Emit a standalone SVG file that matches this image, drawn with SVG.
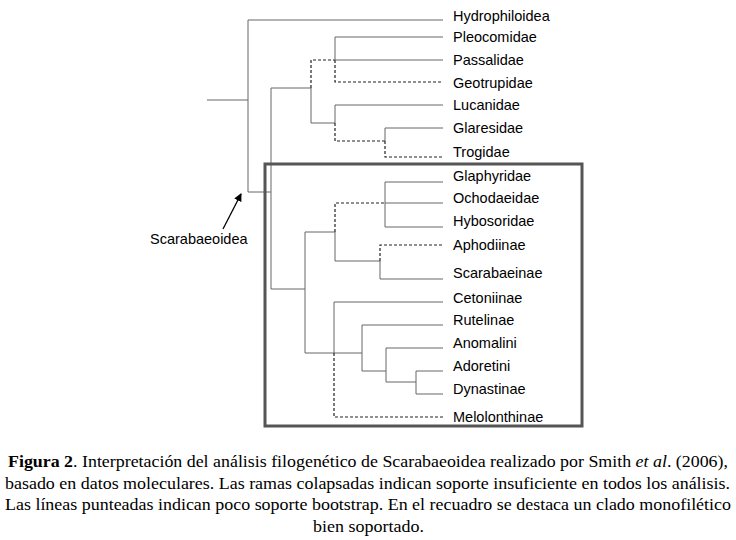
<svg xmlns="http://www.w3.org/2000/svg" width="736" height="540" viewBox="0 0 736 540">
<style>
.s{stroke:#666;stroke-width:1;fill:none}
.d{stroke:#222;stroke-width:1.2;fill:none;stroke-dasharray:3,2}
.lb{font-family:"Liberation Sans",Arial,sans-serif;font-size:14.5px;fill:#000}
.cap{font-family:"Liberation Serif","Times New Roman",serif;font-size:16.5px;fill:#000}
</style>
<defs>
<marker id="ah" markerWidth="8" markerHeight="8" refX="7" refY="4" orient="auto" markerUnits="userSpaceOnUse">
<path d="M0,0 L8,4 L0,8 z" fill="#000"/>
</marker>
</defs>
<rect width="736" height="540" fill="#fff"/>
<g id="connectors">
<path class="s" d="M207,100 H248 M248,20 V192 M248,20 H443 M248,192 H271 M271,88 V289 M271,88 H311 M311,88 V123"/>
<path class="d" d="M311,88 V60 H335 M335,60 V82 H443"/>
<path class="s" d="M335,37 V60 M335,37 H443 M335,60 H443"/>
<path class="s" d="M311,123 H335 M335,105 V123 M335,105 H443"/>
<path class="d" d="M335,123 V141 H385 M385,141 V157 H443"/>
<path class="s" d="M385,128 V141 M385,128 H443"/>
<path class="s" d="M271,289 H305 M305,232 V353 M305,232 H335 M335,232 V261 M335,261 H380"/>
<path class="d" d="M335,232 V203 H385"/>
<path class="s" d="M385,182 V227 M385,182 H443 M385,203 H443 M385,227 H443"/>
<path class="d" d="M380,261 V245 H443"/>
<path class="s" d="M380,261 V279 H443"/>
<path class="s" d="M305,353 H362 M334,302 V353 M334,302 H443"/>
<path class="d" d="M334,353 V417 H443"/>
<path class="s" d="M362,325 V371 M362,325 H443 M362,371 H386 M386,348 V382 M386,348 H443 M386,382 H416 M416,371 V394 M416,371 H443 M416,394 H443"/>
<line x1="223" y1="229" x2="241" y2="194" stroke="#000" stroke-width="1.3" marker-end="url(#ah)"/>
</g>
<g id="box"><rect x="265" y="164" width="317" height="262" fill="none" stroke="#555" stroke-width="3"/></g>
<g id="labels">
<text class="lb" x="453" y="21">Hydrophiloidea</text>
<text class="lb" x="453" y="42">Pleocomidae</text>
<text class="lb" x="453" y="65">Passalidae</text>
<text class="lb" x="453" y="88">Geotrupidae</text>
<text class="lb" x="453" y="110">Lucanidae</text>
<text class="lb" x="453" y="133">Glaresidae</text>
<text class="lb" x="453" y="157">Trogidae</text>
<text class="lb" x="453" y="181">Glaphyridae</text>
<text class="lb" x="453" y="203">Ochodaeidae</text>
<text class="lb" x="453" y="226">Hybosoridae</text>
<text class="lb" x="453" y="250">Aphodiinae</text>
<text class="lb" x="453" y="278">Scarabaeinae</text>
<text class="lb" x="453" y="303">Cetoniinae</text>
<text class="lb" x="453" y="325">Rutelinae</text>
<text class="lb" x="453" y="348">Anomalini</text>
<text class="lb" x="453" y="371">Adoretini</text>
<text class="lb" x="453" y="394">Dynastinae</text>
<text class="lb" x="453" y="422">Melolonthinae</text>
<text class="lb" x="150" y="244">Scarabaeoidea</text>
</g>
<g id="caption">
<text class="cap" x="8" y="467" textLength="720" lengthAdjust="spacingAndGlyphs"><tspan font-weight="bold">Figura 2</tspan>. Interpretación del análisis filogenético de Scarabaeoidea realizado por Smith <tspan font-style="italic">et al</tspan>. (2006),</text>
<text class="cap" x="5" y="489" textLength="725" lengthAdjust="spacingAndGlyphs">basado en datos moleculares. Las ramas colapsadas indican soporte insuficiente en todos los análisis.</text>
<text class="cap" x="5" y="510" textLength="726" lengthAdjust="spacingAndGlyphs">Las líneas punteadas indican poco soporte bootstrap. En el recuadro se destaca un clado monofilético</text>
<text class="cap" x="313" y="532" textLength="111" lengthAdjust="spacingAndGlyphs">bien soportado.</text>
</g>
</svg>
